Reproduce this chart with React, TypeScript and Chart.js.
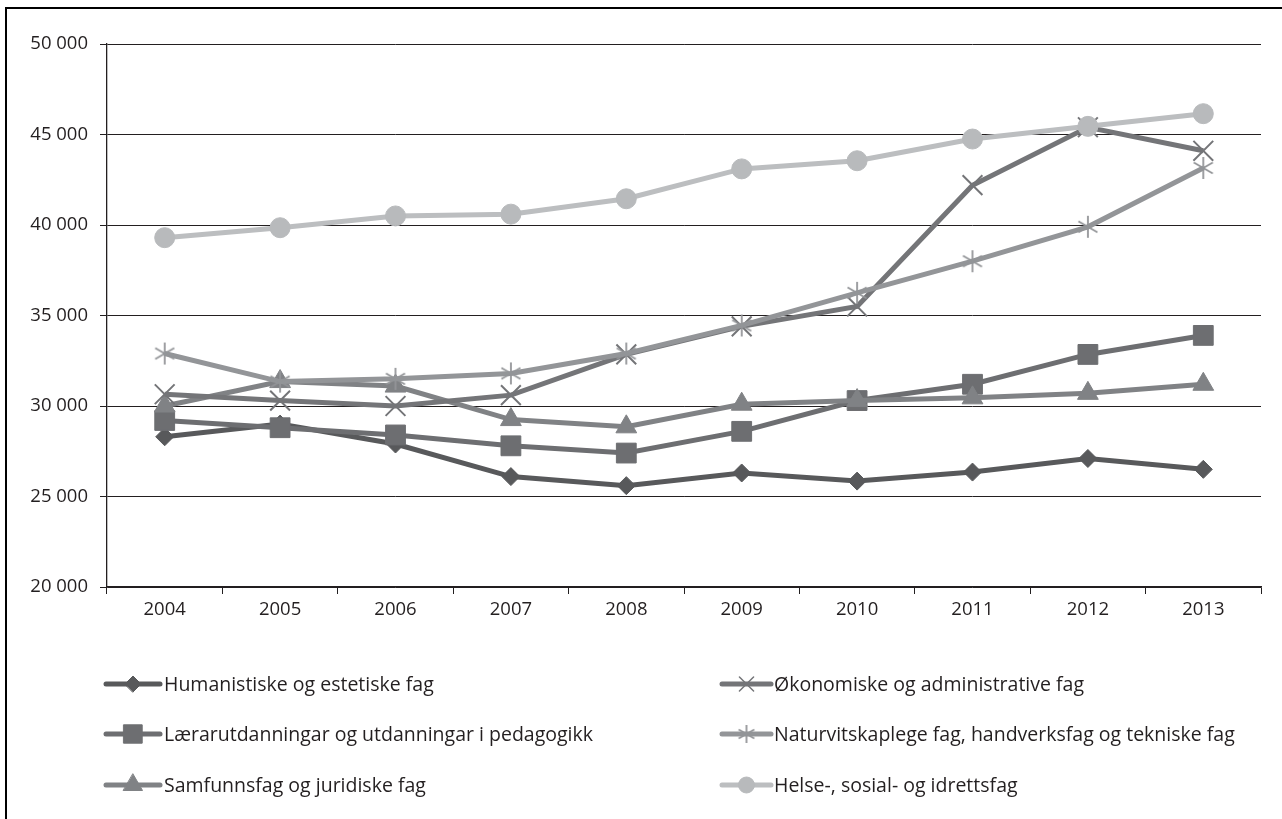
import React, { useEffect, useRef } from 'react';
import { Chart, registerables } from 'chart.js';
import { drawPoint } from 'chart.js/helpers';

Chart.register(...registerables);

const years = ['2004', '2005', '2006', '2007', '2008', '2009', '2010', '2011', '2012', '2013'];
const humanistiske = [28300, 29000, 27900, 26100, 25600, 26300, 25850, 26350, 27100, 26500];
const laerer = [29200, 28800, 28400, 27800, 27400, 28600, 30300, 31200, 32850, 33900];
const samfunn = [30000, 31350, 31100, 29250, 28850, 30100, 30300, 30450, 30700, 31200];
const okonomiske = [30650, 30300, 30000, 30600, 32850, 34400, 35500, 42200, 45400, 44100];
const naturvit = [32900, 31350, 31500, 31800, 32900, 34450, 36250, 38000, 39900, 43150];
const helse = [39300, 39850, 40500, 40600, 41450, 43100, 43550, 44750, 45450, 46150];

const seriesNames = [
  'Humanistiske og estetiske fag',
  'Økonomiske og administrative fag',
  'Lærarutdanningar og utdanningar i pedagogikk',
  'Naturvitskaplege fag, handverksfag og tekniske fag',
  'Samfunnsfag og juridiske fag',
  'Helse-, sosial- og idrettsfag',
];

const yMin = 20000;
const yMax = 50000;
const yStep = 5000;

const FONT = '"Open Sans", sans-serif';
const TEXT = '#231f20';

function makeAsterisk(color: string, size: number) {
  const c = document.createElement('canvas');
  c.width = size;
  c.height = size;
  const ctx = c.getContext('2d')!;
  ctx.strokeStyle = color;
  ctx.lineWidth = 1.8;
  const r = size / 2 - 1;
  const cx = size / 2;
  const cy = size / 2;
  for (let i = 0; i < 3; i++) {
    const a = (i * Math.PI) / 3;
    ctx.beginPath();
    ctx.moveTo(cx + Math.sin(a) * r, cy - Math.cos(a) * r);
    ctx.lineTo(cx - Math.sin(a) * r, cy + Math.cos(a) * r);
    ctx.stroke();
  }
  return c;
}

function formatTick(v: number) {
  const s = String(Math.round(v));
  return s.length > 3 ? s.slice(0, s.length - 3) + ' ' + s.slice(-3) : s;
}

export default function App() {
  const ref = useRef<HTMLCanvasElement | null>(null);

  useEffect(() => {
    if (!ref.current) return;
    const asteriskBig = makeAsterisk('#939598', 24);
    const asteriskSmall = makeAsterisk('#939598', 20);

    const ds = [
      { label: seriesNames[0], data: humanistiske, color: '#58595b', mColor: '#58595b', style: 'rectRot', radius: 9, bw: 1, order: 5 },
      { label: seriesNames[1], data: okonomiske, color: '#747578', mColor: '#747578', style: 'crossRot', radius: 14, bw: 2, order: 2 },
      { label: seriesNames[2], data: laerer, color: '#6d6e71', mColor: '#6d6e71', style: 'rect', radius: 14, bw: 1, order: 4 },
      { label: seriesNames[3], data: naturvit, color: '#939598', mColor: '#939598', style: asteriskBig as any, radius: 12, bw: 1, order: 1 },
      { label: seriesNames[4], data: samfunn, color: '#808285', mColor: '#808285', style: 'triangle', radius: 12, bw: 1, order: 3 },
      { label: seriesNames[5], data: helse, color: '#bcbec0', mColor: '#b8babc', style: 'circle', radius: 10, bw: 1, order: 0 },
    ];

    const legendSmall: any[] = ['rectRot', 'crossRot', 'rect', asteriskSmall, 'triangle', 'circle'];
    const legendRadius = [8, 10, 13, 10, 11, 8];

    const legendPlugin = {
      id: 'customLegend',
      afterDraw(chart: any) {
        const ctx = chart.ctx as CanvasRenderingContext2D;
        const cols = [{ x0: 106, x1: 160, tx: 164 }, { x0: 722, x1: 771, tx: 774 }];
        const rows = [684, 734, 785];
        ds.forEach((d, i) => {
          const col = cols[i % 2];
          const y = rows[Math.floor(i / 2)];
          ctx.save();
          ctx.strokeStyle = d.color;
          ctx.lineWidth = 5;
          ctx.lineCap = 'round';
          ctx.beginPath();
          ctx.moveTo(col.x0, y);
          ctx.lineTo(col.x1, y);
          ctx.stroke();
          ctx.fillStyle = d.mColor;
          ctx.strokeStyle = d.mColor;
          ctx.lineWidth = d.style === 'crossRot' ? 1.5 : 1;
          drawPoint(ctx, { pointStyle: legendSmall[i], radius: legendRadius[i], rotation: 0, borderWidth: ctx.lineWidth } as any, (col.x0 + col.x1) / 2, y);
          ctx.fillStyle = TEXT;
          ctx.font = `19.5px ${FONT}`;
          ctx.textBaseline = 'middle';
          ctx.textAlign = 'left';
          ctx.fillText(d.label, col.tx, y + 1);
          ctx.restore();
        });
      },
    };

    const chart = new Chart(ref.current, {
      type: 'line',
      data: {
        labels: years,
        datasets: ds.map((d) => ({
          label: d.label,
          data: d.data,
          borderColor: d.color,
          backgroundColor: d.mColor,
          borderWidth: 5,
          pointStyle: d.style,
          pointRadius: d.radius,
          pointBackgroundColor: d.mColor,
          pointBorderColor: d.mColor,
          pointBorderWidth: d.bw,
          tension: 0,
          fill: false,
          order: d.order,
        })) as any,
      },
      options: {
        animation: false,
        responsive: false,
        maintainAspectRatio: false,
        layout: { padding: { left: 0, right: 21, top: 44, bottom: 192 } },
        plugins: { legend: { display: false }, tooltip: { enabled: false } },
        scales: {
          x: {
            type: 'category',
            offset: true,
            grid: { display: true, offset: true, drawOnChartArea: false, color: TEXT, tickLength: 7, lineWidth: 1 },
            border: { display: true, color: TEXT, width: 1.3 },
            ticks: { color: TEXT, font: { family: FONT, size: 18.5 }, padding: 5, maxRotation: 0 },
            afterFit: (s: any) => { s.height = 40; },
          },
          y: {
            min: yMin,
            max: yMax,
            grid: { color: TEXT, tickLength: 7, lineWidth: 1 },
            border: { display: true, color: TEXT, width: 1.3 },
            ticks: { stepSize: yStep, color: TEXT, font: { family: FONT, size: 18.5 }, padding: 12, callback: (v: any) => formatTick(Number(v)) },
            afterFit: (s: any) => { s.width = 107; },
          },
        },
      } as any,
      plugins: [legendPlugin],
    });
    return () => chart.destroy();
  }, []);

  return (
    <div style={{ position: 'fixed', left: 0, top: 0, width: 1282, height: 819, background: '#fff', overflow: 'hidden' }}>
      <canvas ref={ref} width={1282} height={819} style={{ position: 'absolute', left: 0, top: 0, width: 1282, height: 819 }} />
      <div style={{ position: 'absolute', left: 5, top: 7, width: 1290, height: 830, borderLeft: '2.5px solid #000', borderTop: '2.5px solid #000', pointerEvents: 'none' }} />
    </div>
  );
}
